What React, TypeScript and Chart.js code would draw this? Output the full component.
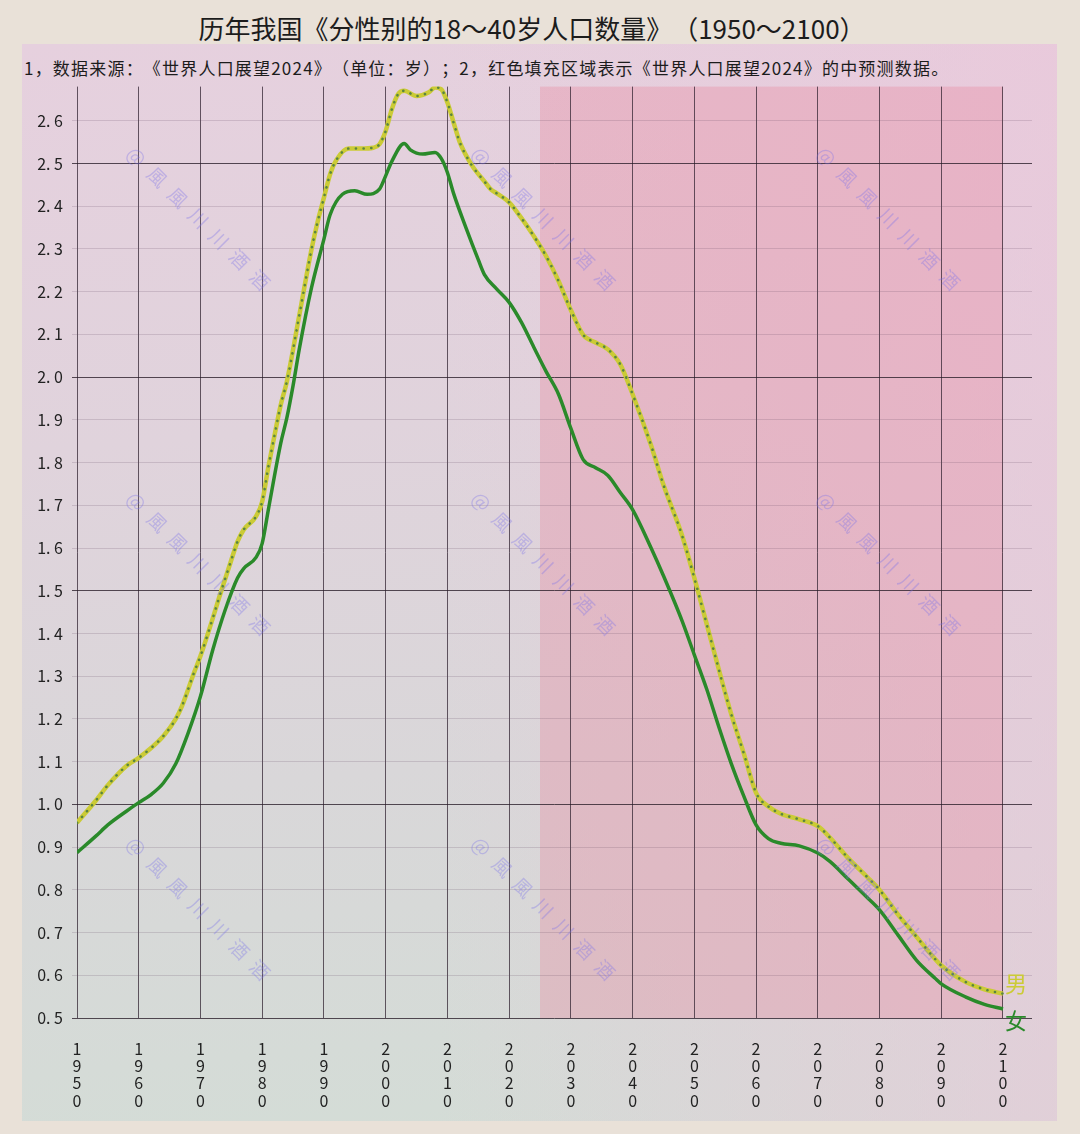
import { useEffect, useRef } from 'react';
import { Chart, registerables } from 'chart.js';

Chart.register(...registerables);

// 数据：18～40岁人口（亿），按性别
const maleYears = [
  1950, 1953, 1955, 1958, 1960, 1962, 1964, 1966, 1967, 1969, 1970, 1972, 1973, 1975, 1976, 1977,
  1979, 1980, 1981, 1982, 1983, 1984, 1986, 1988, 1989, 1990, 1991, 1992, 1994, 1996, 1998, 1999,
  2000, 2001, 2002, 2003, 2005, 2007, 2008, 2009, 2010, 2011, 2012, 2014, 2016, 2017, 2018, 2020,
  2022, 2024, 2026, 2028, 2030, 2032, 2034, 2036, 2038, 2040, 2043, 2045, 2048, 2050, 2053, 2056,
  2058, 2060, 2062, 2064, 2067, 2070, 2072, 2075, 2078, 2080, 2083, 2086, 2089, 2090, 2094, 2097,
  2100,
];
const maleValues = [
  0.957, 1.008, 1.045, 1.09, 1.109, 1.132, 1.16, 1.2, 1.23, 1.31, 1.347, 1.436, 1.483, 1.572, 1.615,
  1.643, 1.674, 1.709, 1.79, 1.864, 1.935, 1.99, 2.144, 2.3, 2.365, 2.42, 2.475, 2.508, 2.535, 2.535,
  2.537, 2.545, 2.576, 2.627, 2.662, 2.67, 2.658, 2.667, 2.678, 2.674, 2.643, 2.596, 2.55, 2.495,
  2.458, 2.44, 2.43, 2.409, 2.372, 2.33, 2.283, 2.225, 2.157, 2.099, 2.081, 2.065, 2.03, 1.96, 1.84,
  1.748, 1.63, 1.53, 1.368, 1.21, 1.12, 1.027, 0.995, 0.978, 0.965, 0.949, 0.922, 0.873, 0.83, 0.8,
  0.742, 0.69, 0.638, 0.623, 0.584, 0.567, 0.557,
];

const femaleYears = [
  1950, 1953, 1955, 1958, 1960, 1962, 1964, 1966, 1968, 1970, 1972, 1974, 1976, 1977, 1979, 1980,
  1981, 1983, 1984, 1985, 1986, 1988, 1990, 1991, 1993, 1995, 1997, 1999, 2000, 2001, 2003, 2004,
  2006, 2008, 2009, 2010, 2011, 2013, 2015, 2016, 2018, 2020, 2022, 2024, 2026, 2028, 2030, 2032,
  2034, 2036, 2038, 2040, 2043, 2045, 2048, 2050, 2052, 2054, 2056, 2058, 2060, 2062, 2064, 2067,
  2070, 2072, 2075, 2078, 2080, 2083, 2086, 2089, 2090, 2094, 2097, 2100,
];
const femaleValues = [
  0.887, 0.925, 0.952, 0.984, 1.004, 1.023, 1.05, 1.095, 1.167, 1.253, 1.362, 1.455, 1.53, 1.552,
  1.578, 1.611, 1.69, 1.845, 1.905, 1.98, 2.065, 2.21, 2.323, 2.38, 2.428, 2.436, 2.428, 2.44, 2.471,
  2.505, 2.547, 2.532, 2.522, 2.526, 2.512, 2.479, 2.43, 2.35, 2.275, 2.24, 2.206, 2.175, 2.128,
  2.07, 2.013, 1.96, 1.88, 1.807, 1.788, 1.77, 1.73, 1.69, 1.6, 1.535, 1.43, 1.35, 1.27, 1.18, 1.095,
  1.02, 0.952, 0.92, 0.909, 0.903, 0.886, 0.866, 0.824, 0.782, 0.753, 0.694, 0.635, 0.593, 0.58,
  0.549, 0.532, 0.521,
];

const xTicks = [1950, 1960, 1970, 1980, 1990, 2000, 2010, 2020, 2030, 2040, 2050, 2060, 2070, 2080, 2090, 2100];
const yTicks = [0.5, 0.6, 0.7, 0.8, 0.9, 1.0, 1.1, 1.2, 1.3, 1.4, 1.5, 1.6, 1.7, 1.8, 1.9, 2.0, 2.1, 2.2, 2.3, 2.4, 2.5, 2.6];

const forecastStart = 2025;
const forecastEnd = 2100;

const TITLE = '历年我国《分性别的18～40岁人口数量》（1950～2100）';
const NOTE = '1，数据来源：《世界人口展望2024》（单位：岁）；2，红色填充区域表示《世界人口展望2024》的中预测数据。';
const WATERMARK = '@風風川川酒酒';

const FONT = '"Noto Sans CJK SC", "Noto Sans", sans-serif';
const MALE = '#cbcb36';
const MALE_DOT = '#5a8540';
const FEMALE = '#2a8a2a';

// canvas sits at page (22, 68)
const CANVAS_LEFT = 22;
const CANVAS_TOP = 68;

const bandPlugin = {
  id: 'forecastBand',
  beforeDraw(chart: any) {
    const { ctx, chartArea, scales } = chart;
    const x0 = scales.x.getPixelForValue(forecastStart);
    const x1 = scales.x.getPixelForValue(forecastEnd);
    ctx.save();
    ctx.fillStyle = 'rgba(232, 120, 145, 0.28)';
    ctx.fillRect(x0, chartArea.top, x1 - x0, chartArea.bottom - chartArea.top);
    ctx.restore();
  },
};

const labelPlugin = {
  id: 'endLabels',
  afterDatasetsDraw(chart: any) {
    const { ctx, scales } = chart;
    const x = scales.x.getPixelForValue(2100) + 2;
    const ym = scales.y.getPixelForValue(maleValues[maleValues.length - 1]);
    const yf = scales.y.getPixelForValue(femaleValues[femaleValues.length - 1]);
    ctx.save();
    ctx.font = `22px ${FONT}`;
    ctx.textAlign = 'left';
    ctx.textBaseline = 'middle';
    ctx.fillStyle = MALE;
    ctx.fillText('男', x, ym - 10);
    ctx.fillStyle = FEMALE;
    ctx.fillText('女', x, yf + 12);

    // watermark grid
    ctx.font = `19px ${FONT}`;
    ctx.fillStyle = 'rgba(120, 110, 235, 0.34)';
    const cols = [130, 475, 820];
    const rows = [150, 495, 840];
    for (const px of cols) {
      for (const py of rows) {
        ctx.save();
        ctx.translate(px - CANVAS_LEFT, py - CANVAS_TOP);
        ctx.rotate(Math.PI / 4);
        ctx.textAlign = 'left';
        let off = 0;
        for (const ch of WATERMARK) {
          ctx.fillText(ch, off, 0);
          off += 29;
        }
        ctx.restore();
      }
    }
    ctx.restore();
  },
};

function LineChart() {
  const canvasRef = useRef<HTMLCanvasElement>(null);

  useEffect(() => {
    if (!canvasRef.current) return;
    const male = maleYears.map((x, i) => ({ x, y: maleValues[i] }));
    const female = femaleYears.map((x, i) => ({ x, y: femaleValues[i] }));

    const chart = new Chart(canvasRef.current, {
      type: 'line',
      data: {
        datasets: [
          {
            label: '男点',
            data: male,
            order: 0,
            borderColor: MALE_DOT,
            borderWidth: 2.6,
            borderDash: [0.1, 7.6],
            borderCapStyle: 'round',
            pointRadius: 0,
            cubicInterpolationMode: 'monotone',
          },
          {
            label: '男',
            data: male,
            order: 1,
            borderColor: MALE,
            borderWidth: 4.5,
            pointRadius: 0,
            cubicInterpolationMode: 'monotone',
          },
          {
            label: '女',
            data: female,
            order: 2,
            borderColor: FEMALE,
            borderWidth: 3.5,
            pointRadius: 0,
            cubicInterpolationMode: 'monotone',
          },
        ],
      },
      options: {
        animation: false,
        responsive: false,
        layout: { padding: { top: 7, right: 25, left: 0, bottom: 0 } },
        plugins: {
          legend: { display: false },
          tooltip: { enabled: false },
          title: { display: false },
        },
        scales: {
          x: {
            type: 'linear',
            min: 1950,
            max: 2104.7,
            afterBuildTicks: (scale: any) => {
              scale.ticks = xTicks.map((value) => ({ value }));
            },
            afterFit: (scale: any) => {
              scale.height = 102;
            },
            ticks: {
              autoSkip: false,
              maxRotation: 0,
              padding: 22,
              color: '#222',
              font: { family: FONT, size: 16, lineHeight: 1.08 },
              callback: (v: any) => String(v).split(''),
            },
            grid: {
              drawTicks: false,
              color: 'rgba(45, 30, 45, 0.72)',
              lineWidth: 1,
            },
            border: { display: false },
          },
          y: {
            type: 'linear',
            min: 0.5,
            max: 2.68,
            afterBuildTicks: (scale: any) => {
              scale.ticks = yTicks.map((value) => ({ value }));
            },
            afterFit: (scale: any) => {
              scale.width = 55;
            },
            ticks: {
              padding: 9,
              color: '#222',
              font: { family: FONT, size: 16 },
              callback: (v: any) => Number(v).toFixed(1).replace('.', '. '),
            },
            grid: {
              tickLength: 5,
              lineWidth: 1,
              color: (ctx: any) => {
                const v = ctx.tick ? ctx.tick.value : 0;
                return Math.round(v * 10) % 5 === 0 ? 'rgba(40, 28, 40, 0.78)' : 'rgba(90, 60, 90, 0.18)';
              },
            },
            border: { display: false },
          },
        },
      },
      plugins: [bandPlugin, labelPlugin],
    } as any);

    return () => chart.destroy();
  }, []);

  return (
    <canvas
      ref={canvasRef}
      width={1035}
      height={1052}
      style={{ position: 'absolute', left: CANVAS_LEFT, top: CANVAS_TOP, width: 1035, height: 1052 }}
    />
  );
}

export default function App() {
  return (
    <div
      style={{
        position: 'absolute',
        left: 0,
        top: 0,
        width: 1080,
        height: 1134,
        background: '#e9e1d8',
        fontFamily: FONT,
        overflow: 'hidden',
      }}
    >
      <div
        style={{
          position: 'absolute',
          left: 22,
          top: 44,
          width: 1035,
          height: 1077,
          background: 'linear-gradient(175deg, #e6d0de 0%, #e0d3dc 35%, #d9d7d9 65%, #d3ddd6 100%)',
        }}
      />
      <div
        style={{
          position: 'absolute',
          left: 22,
          top: 44,
          width: 1035,
          height: 1077,
          background: 'linear-gradient(to right, rgba(233,196,216,0) 40%, rgba(236,196,218,0.55) 100%)',
        }}
      />
      <div
        style={{
          position: 'absolute',
          left: 0,
          top: 10,
          width: 1064,
          textAlign: 'center',
          fontSize: 26,
          lineHeight: '36px',
          color: '#1c1c1c',
          whiteSpace: 'nowrap',
          textSpacingTrim: 'space-all',
        } as any}
      >
        {TITLE}
      </div>
      <div
        style={{
          position: 'absolute',
          left: 24,
          top: 56,
          fontSize: 17,
          letterSpacing: 1.2,
          lineHeight: '24px',
          color: '#1c1c1c',
          whiteSpace: 'nowrap',
          textSpacingTrim: 'space-all',
        } as any}
      >
        {NOTE}
      </div>
      <LineChart />
    </div>
  );
}
